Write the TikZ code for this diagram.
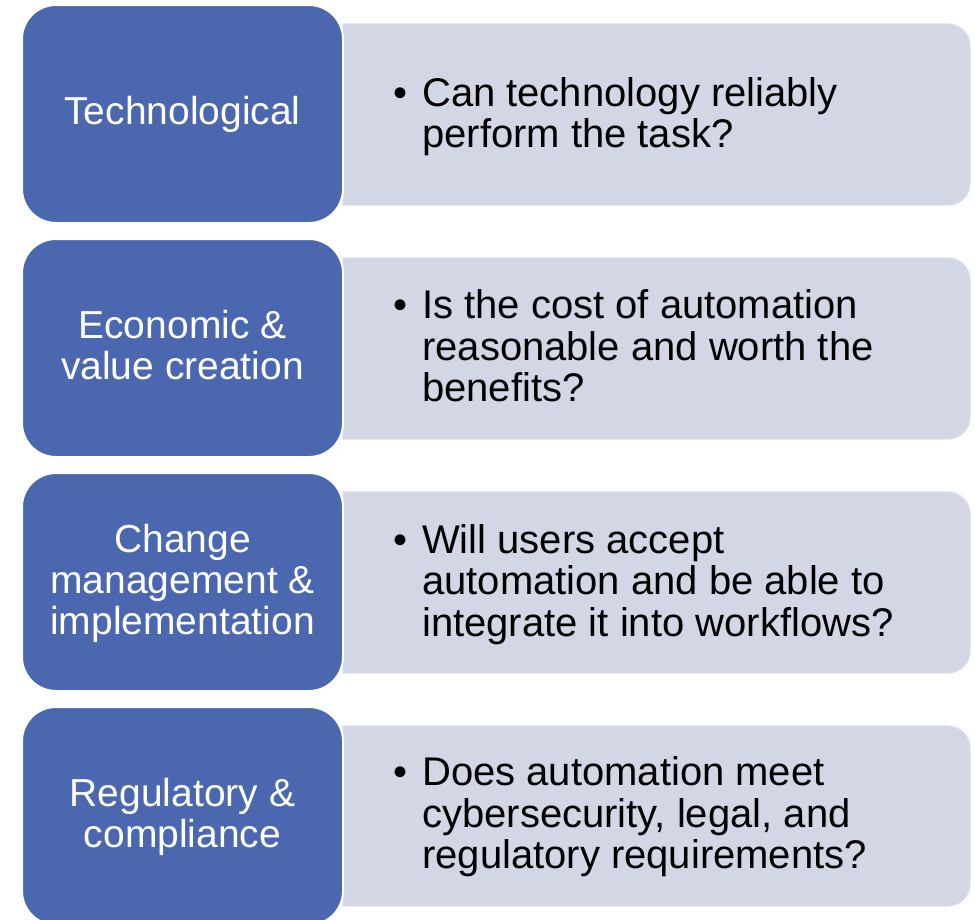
\documentclass[tikz,border=0pt]{standalone}
\usepackage{fontspec}
\setmainfont{Liberation Sans}
\definecolor{catblue}{HTML}{4A67AF}
\definecolor{qfill}{HTML}{D3D6E5}
\definecolor{qedge}{HTML}{DADDEA}

% light question panel: square on the left, rounded (r = 22) on the right
\newcommand{\questionpanel}[2]{%
  \filldraw[panel] (343,#1) -- (948,#1)
    .. controls (960.15,#1) and (970,#1+9.85) .. (970,#1+22)
    -- (970,#2-22)
    .. controls (970,#2-9.85) and (960.15,#2) .. (948,#2)
    -- (343,#2) -- cycle;}
% bullet hung in the left margin of a question
\newcommand{\qbullet}{\leavevmode\llap{•\hspace{15pt}}}

\begin{document}
\begin{tikzpicture}[x=1pt,y=-1pt,
  panel/.style={fill=qfill,draw=qedge,line width=1.2pt},
  catbox/.style={draw=white,line width=2pt,fill=catblue,rounded corners=34pt,
    minimum width=321pt,minimum height=218pt,inner sep=0pt},
  cattext/.style={anchor=base,inner sep=0pt,text=white,
    font=\fontsize{39}{41}\selectfont},
  qtext/.style={anchor=base west,inner sep=0pt,text=black,
    font=\fontsize{40}{41.5}\selectfont},
]
\useasboundingbox (0,0) rectangle (975,919);
\clip (0,0) rectangle (975,919);

% question panels
\questionpanel{24}{205}
\questionpanel{258}{439}
\questionpanel{492}{673}
\questionpanel{726}{906}

% category boxes
\node[catbox] (tech) at (182.5,114) {};
\node[catbox] (econ) at (182.5,348) {};
\node[catbox] (change) at (182.5,582) {};
\node[catbox] (reg) at (182.5,816) {};

% category labels
\node[cattext] (techlabel) at (182.5,124.5)
  {\parbox[t]{320pt}{\centering Technological}};
\node[cattext] (econlabel) at (182.5,338.5)
  {\parbox[t]{320pt}{\centering Economic \&\\value creation}};
\node[cattext] (changelabel) at (182.5,552.5)
  {\parbox[t]{320pt}{\centering Change\\management \&\\implementation}};
\node[cattext] (reglabel) at (182.5,806)
  {\parbox[t]{320pt}{\centering Regulatory \&\\compliance}};

% questions
\node[qtext] (techq) at (422,106)
  {\parbox[t]{545pt}{\raggedright\qbullet Can technology reliably\\perform the task?}};
\node[qtext] (econq) at (422,318.5)
  {\parbox[t]{545pt}{\raggedright\qbullet Is the cost of automation\\reasonable and worth the\\benefits?}};
\node[qtext] (changeq) at (422,553)
  {\parbox[t]{545pt}{\raggedright\qbullet Will users accept\\automation and be able to\\integrate it into workflows?}};
\node[qtext] (regq) at (422,785.5)
  {\parbox[t]{545pt}{\raggedright\qbullet Does automation meet\\cybersecurity, legal, and\\regulatory requirements?}};
\end{tikzpicture}
\end{document}
